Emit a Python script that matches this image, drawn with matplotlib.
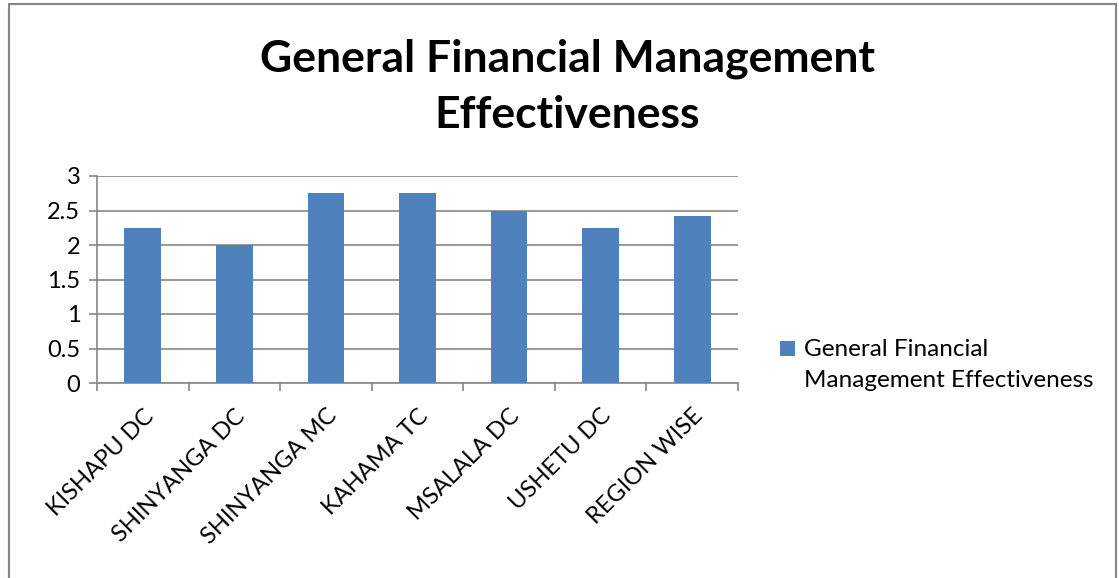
import matplotlib.pyplot as plt
from matplotlib.patches import Rectangle

categories = ["KISHAPU DC", "SHINYANGA DC", "SHINYANGA MC", "KAHAMA TC",
              "MSALALA DC", "USHETU DC", "REGION WISE"]
values = [2.25, 2.0, 2.75, 2.75, 2.5, 2.25, 2.42]
series_name = "General Financial Management Effectiveness"

plt.rcParams['font.family'] = ['Lato', 'DejaVu Sans']

fig = plt.figure(figsize=(11.19, 5.78), dpi=100)
ax = fig.add_axes([97 / 1119, 1 - 383 / 578, (738 - 97) / 1119, (383 - 176) / 578])

x = range(len(categories))
bars = ax.bar(x, values, width=0.4, color='#4f81bd', label=series_name, zorder=3)

ax.set_xlim(-0.5, len(categories) - 0.5)
ax.set_ylim(0, 3)
ax.set_yticks([0, 0.5, 1, 1.5, 2, 2.5, 3])
ax.set_yticklabels(['0', '0.5', '1', '1.5', '2', '2.5', '3'], fontsize=17)
ax.yaxis.grid(True, color='#868686', linewidth=1.2, zorder=0)

# category ticks sit between bars, like Excel
ax.set_xticks([i - 0.5 for i in range(len(categories) + 1)])
ax.set_xticklabels([])
ax.set_xticks(list(x), minor=True)
ax.set_xticklabels(categories, minor=True, rotation=45, ha='right', va='top',
                   rotation_mode='anchor', fontsize=17)
ax.tick_params(axis='x', which='minor', length=0, pad=16)
ax.tick_params(axis='x', which='major', length=6, color='#868686', width=1.2)
ax.tick_params(axis='y', length=6, color='#868686', width=1.2, direction='out', pad=6)
for lbl in ax.get_xticklabels(minor=True):
    lbl.set_x(lbl.get_position()[0])

for s in ['top', 'right']:
    ax.spines[s].set_visible(False)
ax.spines['left'].set_color('#868686')
ax.spines['bottom'].set_color('#868686')
ax.spines['left'].set_linewidth(1.2)
ax.spines['bottom'].set_linewidth(1.2)

fig.text(567 / 1119, 1 - 87 / 578, "General Financial Management\nEffectiveness",
         ha='center', va='center', fontsize=32, fontweight='bold', linespacing=1.5)

leg = fig.legend(handles=[bars], labels=["General Financial\nManagement Effectiveness"],
                 loc='center left', bbox_to_anchor=(768 / 1119, 1 - 365 / 578),
                 frameon=False, fontsize=17.5, handlelength=0.6, handleheight=0.6,
                 handletextpad=0.4, borderpad=0)
for t in leg.get_texts():
    t.set_linespacing(1.55)
# put the marker beside the first line, as Excel does
h = leg.legend_handles[0]
h.set_y(h.get_y() + 12)

fig.patches.append(Rectangle((9 / 1119, -0.01), (1116 - 9) / 1119, 1 - 4 / 578 + 0.01,
                             transform=fig.transFigure, fill=False,
                             edgecolor='#868686', linewidth=1.5))

fig.savefig('out.png', dpi=100)
